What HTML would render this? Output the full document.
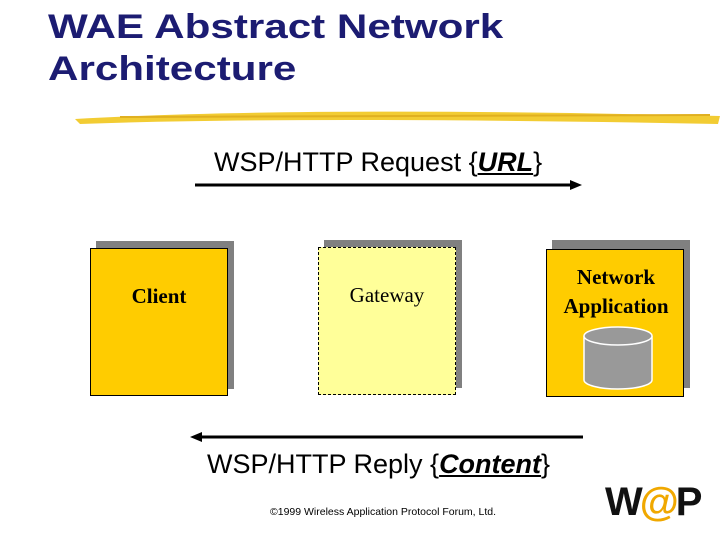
<!DOCTYPE html>
<html><head><style>
body{margin:0;width:720px;height:540px;background:#fff;position:relative;overflow:hidden;font-family:"Liberation Sans",sans-serif}
.t{position:absolute;left:48px;font-weight:bold;font-size:34px;color:#1c1c72;line-height:42px;transform:scaleX(1.24);transform-origin:0 0;white-space:nowrap}
.box{position:absolute;width:138px;height:148px;border:1px solid #000;box-sizing:border-box}
.sh{position:absolute;width:138px;height:148px;background:#808080}
.lbl{position:absolute;font-family:"Liberation Serif",serif;font-size:21px;text-align:center;width:138px}
.a{position:absolute;font-size:27px;color:#000;white-space:nowrap}
</style></head><body>
<div class="t" style="top:6px">WAE Abstract Network</div>
<div class="t" style="top:48px">Architecture</div>
<svg style="position:absolute;left:0;top:0" width="720" height="540">
<path d="M75 119 Q300 106 720 116 L718 124 Q300 116 80 124 Z" fill="#f2cc33"/>
<path d="M120 117 L710 115" stroke="#e0b020" stroke-width="2"/>
<line x1="195" y1="185" x2="572" y2="185" stroke="#000" stroke-width="3"/>
<polygon points="582,185 570,180 570,190" fill="#000"/>
<line x1="200" y1="437" x2="583" y2="437" stroke="#000" stroke-width="3"/>
<polygon points="190,437 202,432 202,442" fill="#000"/>
</svg>
<div class="sh" style="left:96px;top:241px"></div>
<div class="box" style="left:90px;top:248px;background:#ffcc00"></div>
<div class="lbl" style="left:90px;top:284px;font-weight:bold">Client</div>
<div class="sh" style="left:324px;top:240px"></div>
<div class="box" style="left:318px;top:247px;background:#ffff99;border:1px dashed #000"></div>
<div class="lbl" style="left:318px;top:283px">Gateway</div>
<div class="sh" style="left:552px;top:240px"></div>
<div class="box" style="left:546px;top:249px;background:#ffcc00"></div>
<div class="lbl" style="left:547px;top:263px;font-weight:bold;line-height:29px">Network<br>Application</div>
<svg style="position:absolute;left:580px;top:326px" width="76" height="66">
<path d="M4 10 V54 A34 9 0 0 0 72 54 V10" fill="#999" stroke="#fff" stroke-width="1.5"/>
<ellipse cx="38" cy="10" rx="34" ry="9" fill="#999" stroke="#fff" stroke-width="1.5"/>
</svg>
<div class="a" style="left:214px;top:147px">WSP/HTTP Request {<b><u><i>URL</i></u></b>}</div>
<div class="a" style="left:207px;top:449px">WSP/HTTP Reply {<b><u><i>Content</i></u></b>}</div>
<div style="position:absolute;left:270px;top:506px;font-size:10.5px">©1999 Wireless Application Protocol Forum, Ltd.</div>
<div style="position:absolute;left:605px;top:480px;font-size:40px;font-weight:bold;letter-spacing:-3px;color:#111">W<span style="color:#f0a800">@</span>P</div>
</body></html>
